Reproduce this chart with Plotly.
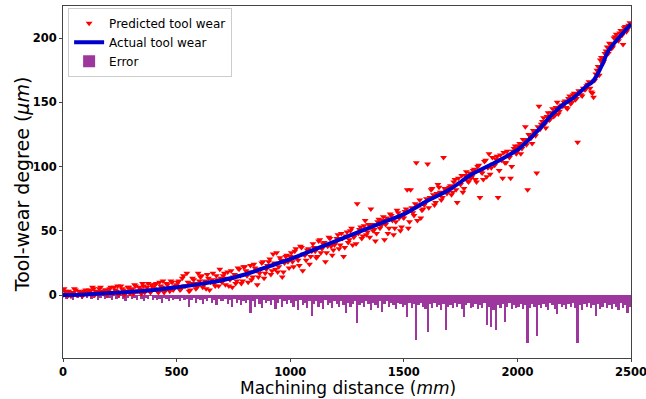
import plotly.graph_objects as go

# ---- data ----
pred_x_a = [5 + 10 * i for i in range(250)]
pred_y_a = [
    5, 1, 3, -1, 2, 4, 0, 2, -1, 3,
    2, 4, 0, 5, 3, 1, 6, 2, 4, 0,
    5, 2, 6, 3, 0, 7, 4, 2, 6, 1,
    5, 8, 3, 6, 1, 7, 4, 9, 2, 6,
    8, 3, 10, 6, 2, 9, 5, 11, 4, 7,
    10, 4, 13, 7, 17, 3, 9, 12, 5, 17,
    14, 6, 11, 16, 4, 12, 9, 15, 7, 13,
    15, 8, 18, 12, 6, 16, 11, 20, 9, 22,
    19, 10, 23, 14, 21, 8, 17, 25, 13, 20,
    26, 16, 32, 20, 18, 29, 14, 25, 31, 21,
    33, 22, 36, 27, 38, 19, 31, 35, 24, 34,
    37, 29, 42, 33, 40, 26, 38, 44, 31, 39,
    44, 36, 48, 30, 46, 41, 50, 39, 47, 71,
    51, 44, 54, 47, 55, 67, 50, 42, 57, 52,
    58, 43, 60, 52, 62, 47, 57, 64, 50, 61,
    65, 82, 57, 68, 62, 103, 70, 60, 67, 72,
    102, 76, 83, 70, 79, 84, 74, 107, 81, 83,
    85, 80, 90, 72, 87, 93, 83, 96, 88, 91,
    97, 90, 100, 76, 95, 104, 92, 110, 99, 102,
    106, 76, 109, 91, 103, 112, 107, 100, 114, 110,
    116, 110, 121, 131, 82, 124, 118, 126, 95, 147,
    133, 138, 130, 142, 137, 145, 140, 150, 143, 148,
    150, 146, 153, 149, 156, 152, 119, 158, 155, 160,
    163, 166, 158, 154, 172, 178, 183, 180, 188, 193,
    196, 192, 200, 203, 198, 206, 195, 209, 207, 212,
]
pred_x_b = [10 * i for i in range(250)]
pred_y_b = [
    0, 3, -1, 2, 1, 5, 0, 3, 1, 2,
    4, 1, 3, 6, 0, 2, 5, 3, 1, 4,
    3, 6, 1, 4, 7, 2, 5, 0, 3, 6,
    4, 1, 7, 3, 5, 9, 2, 6, 4, 8,
    5, 9, 2, 7, 11, 4, 8, 3, 10, 6,
    8, 11, 5, 15, 7, 10, 4, 13, 9, 6,
    11, 15, 8, 5, 13, 10, 17, 7, 12, 20,
    10, 17, 13, 7, 19, 14, 9, 21, 15, 11,
    22, 15, 18, 12, 24, 19, 14, 20, 26, 17,
    23, 28, 19, 25, 33, 22, 27, 18, 30, 26,
    30, 26, 34, 29, 23, 37, 32, 27, 36, 30,
    40, 34, 30, 43, 36, 41, 33, 45, 38, 35,
    41, 47, 39, 44, 37, 49, 43, 52, 45, 40,
    48, 53, 46, 58, 49, 45, 55, 51, 48, 59,
    54, 61, 55, 48, 63, 58, 52, 66, 60, 53,
    60, 67, 52, 82, 64, 71, 58, 74, 66, 70,
    75, 68, 82, 78, 72, 86, 80, 76, 83, 79,
    84, 78, 88, 82, 91, 86, 80, 93, 89, 95,
    92, 98, 88, 101, 96, 90, 105, 99, 94, 107,
    101, 108, 97, 105, 111, 103, 109, 91, 112, 116,
    112, 118, 114, 121, 117, 125, 122, 128, 124, 131,
    129, 135, 133, 139, 136, 142, 139, 146, 141, 147,
    147, 151, 145, 155, 150, 157, 153, 159, 156, 161,
    160, 164, 161, 157, 167, 175, 171, 185, 182, 190,
    188, 195, 193, 201, 199, 204, 202, 208, 205, 210,
]

actual_x = [0, 100, 200, 300, 400, 500, 600, 700, 800, 900, 1000, 1100, 1200,
            1300, 1400, 1500, 1600, 1700, 1800, 1900, 2000, 2050, 2100, 2150,
            2200, 2250, 2300, 2330, 2350, 2375, 2400, 2450, 2500]
actual_y = [0, 0.5, 1.5, 2.5, 4, 6, 8.5, 11.5, 16, 22, 28, 35, 42,
            49, 56, 63, 73, 82, 94, 103, 113, 121, 130, 140,
            148, 154, 162, 166, 171, 180, 190, 201, 211]

err_x = [5 + 10 * i for i in range(250)]
err_y = [
    -1, -3, -1, -2, -4, -1, -2, -1, -3, -1,
    -2, -1, -3, -2, -1, -4, -2, -1, -3, -2,
    -2, -4, -1, -3, -2, -1, -3, -5, -2, -1,
    -3, -2, -4, -1, -3, -5, -2, -3, -1, -4,
    -2, -4, -3, -6, -2, -3, -5, -2, -4, -3,
    -3, -5, -2, -4, -3, -9, -4, -2, -6, -3,
    -4, -7, -3, -5, -2, -6, -4, -8, -3, -5,
    -5, -3, -7, -4, -9, -3, -6, -4, -8, -5,
    -6, -4, -14, -5, -9, -3, -7, -10, -4, -6,
    -5, -8, -4, -11, -6, -3, -9, -5, -7, -4,
    -6, -9, -5, -12, -4, -8, -6, -10, -5, -16,
    -7, -5, -9, -6, -11, -4, -8, -6, -10, -5,
    -7, -9, -5, -8, -14, -6, -9, -7, -5, -22,
    -8, -6, -9, -5, -7, -12, -6, -8, -10, -5,
    -13, -7, -5, -9, -6, -8, -11, -6, -7, -9,
    -8, -17, -6, -10, -7, -35, -8, -6, -9, -11,
    -29, -7, -10, -6, -9, -8, -12, -7, -27, -9,
    -8, -10, -6, -9, -7, -11, -17, -8, -6, -10,
    -9, -7, -11, -8, -10, -6, -23, -9, -25, -12,
    -27, -8, -10, -7, -21, -9, -6, -11, -8, -10,
    -9, -7, -11, -8, -37, -10, -7, -9, -32, -8,
    -10, -7, -9, -12, -6, -8, -11, -15, -7, -9,
    -8, -11, -7, -9, -6, -10, -37, -8, -12, -7,
    -9, -6, -10, -8, -16, -7, -11, -9, -6, -10,
    -8, -11, -7, -9, -12, -6, -10, -8, -14, -9,
]

x_ticks = [0, 500, 1000, 1500, 2000, 2500]
y_ticks = [0, 50, 100, 150, 200]

FONT = "DejaVu Sans"

fig = go.Figure()
fig.add_trace(go.Bar(
    x=err_x, y=err_y, name="Error", width=10,
    marker=dict(color="rgba(140,20,140,0.85)", line=dict(width=0)),
    legendrank=3,
))
fig.add_trace(go.Scatter(
    x=pred_x_a + pred_x_b, y=pred_y_a + pred_y_b, mode="markers",
    name="Predicted tool wear",
    marker=dict(symbol="triangle-down", size=6, color="red", line=dict(width=0)),
    legendrank=1,
))
fig.add_trace(go.Scatter(
    x=actual_x, y=actual_y, mode="lines", name="Actual tool wear",
    line=dict(color="#0000CC", width=4, shape="spline"),
    legendrank=2,
))

axis_common = dict(
    showgrid=False, zeroline=False, showline=True, mirror=True,
    linecolor="#444", linewidth=1, ticks="outside", ticklen=3,
    tickcolor="#444", ticklabeloverflow="allow", automargin=False,
    tickfont=dict(family=FONT, size=11.5, color="black", weight="bold"),
)

fig.update_layout(
    width=646, height=399,
    margin=dict(l=63, r=15, t=6, b=41),
    plot_bgcolor="white", paper_bgcolor="white",
    bargap=0,
    font=dict(family=FONT, color="black"),
    xaxis=dict(range=[0, 2500], tickvals=x_ticks, **axis_common),
    yaxis=dict(range=[-49, 225], tickvals=y_ticks, **axis_common),
    legend=dict(x=0.009, y=0.995, xanchor="left", yanchor="top",
                bgcolor="rgba(255,255,255,0.8)", bordercolor="#ccc",
                borderwidth=1, font=dict(family=FONT, size=12),
                traceorder="normal", tracegroupgap=0),
    showlegend=True,
    annotations=[
        dict(text="Machining distance (<i>mm</i>)", xref="paper", yref="paper",
             x=0.502, y=-0.1165, xanchor="center", yanchor="bottom",
             showarrow=False, borderpad=0, font=dict(family=FONT, size=17)),
        dict(text="Tool-wear degree (<i>μm</i>)", xref="paper", yref="paper",
             x=-0.072, y=0.494, xanchor="center", yanchor="middle",
             textangle=-90, showarrow=False, font=dict(family=FONT, size=19)),
    ],
)

fig.write_html("out.html")
